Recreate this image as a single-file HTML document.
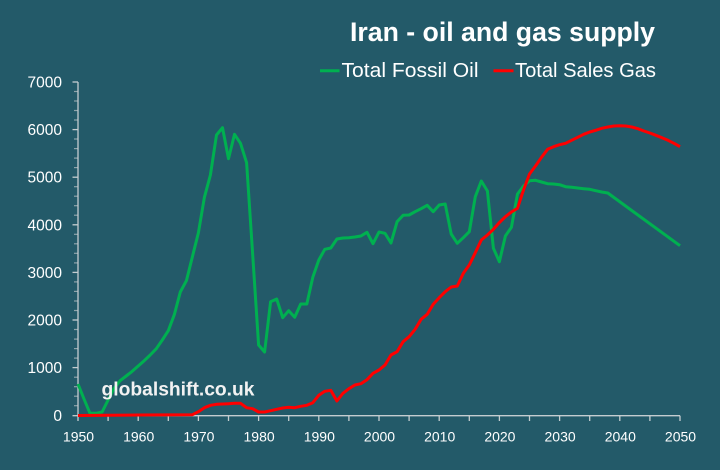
<!DOCTYPE html>
<html>
<head>
<meta charset="utf-8">
<style>
html,body{margin:0;padding:0;background:#235A69;}
svg{display:block;}
text{font-family:"Liberation Sans",Arial,sans-serif;}
</style>
</head>
<body>
<svg width="720" height="470" viewBox="0 0 720 470" xmlns="http://www.w3.org/2000/svg">
<rect x="0" y="0" width="720" height="470" fill="#235A69"/>

<!-- Title -->
<text x="350" y="41" font-size="27" font-weight="bold" fill="#ffffff" textLength="305" lengthAdjust="spacingAndGlyphs">Iran - oil and gas supply</text>

<!-- Legend -->
<line x1="320" y1="70.7" x2="339.5" y2="70.7" stroke="#00B050" stroke-width="3"/>
<text x="341.5" y="77" font-size="20" fill="#ffffff" textLength="137" lengthAdjust="spacingAndGlyphs">Total Fossil Oil</text>
<line x1="493.5" y1="70.7" x2="513.5" y2="70.7" stroke="#FF0000" stroke-width="3"/>
<text x="515" y="77" font-size="20" fill="#ffffff" textLength="141" lengthAdjust="spacingAndGlyphs">Total Sales Gas</text>

<!-- Y axis minor ticks -->
<g stroke="#8DA3AA" stroke-width="1.2">
<line x1="74" y1="91.5" x2="78" y2="91.5"/><line x1="74" y1="101" x2="78" y2="101"/><line x1="74" y1="110.5" x2="78" y2="110.5"/><line x1="74" y1="120" x2="78" y2="120"/>
<line x1="74" y1="139" x2="78" y2="139"/><line x1="74" y1="148.6" x2="78" y2="148.6"/><line x1="74" y1="158.1" x2="78" y2="158.1"/><line x1="74" y1="167.6" x2="78" y2="167.6"/>
<line x1="74" y1="186.7" x2="78" y2="186.7"/><line x1="74" y1="196.2" x2="78" y2="196.2"/><line x1="74" y1="205.7" x2="78" y2="205.7"/><line x1="74" y1="215.2" x2="78" y2="215.2"/>
<line x1="74" y1="234.3" x2="78" y2="234.3"/><line x1="74" y1="243.8" x2="78" y2="243.8"/><line x1="74" y1="253.3" x2="78" y2="253.3"/><line x1="74" y1="262.9" x2="78" y2="262.9"/>
<line x1="74" y1="281.9" x2="78" y2="281.9"/><line x1="74" y1="291.4" x2="78" y2="291.4"/><line x1="74" y1="301" x2="78" y2="301"/><line x1="74" y1="310.5" x2="78" y2="310.5"/>
<line x1="74" y1="329.5" x2="78" y2="329.5"/><line x1="74" y1="339.1" x2="78" y2="339.1"/><line x1="74" y1="348.6" x2="78" y2="348.6"/><line x1="74" y1="358.1" x2="78" y2="358.1"/>
<line x1="74" y1="377.2" x2="78" y2="377.2"/><line x1="74" y1="386.7" x2="78" y2="386.7"/><line x1="74" y1="396.2" x2="78" y2="396.2"/><line x1="74" y1="405.7" x2="78" y2="405.7"/>
</g>
<!-- Y axis major ticks + line -->
<g stroke="#C4CDD0" stroke-width="1.3">
<line x1="78" y1="82" x2="78" y2="415.7"/>
<line x1="72.5" y1="82" x2="78" y2="82"/>
<line x1="72.5" y1="129.6" x2="78" y2="129.6"/>
<line x1="72.5" y1="177.2" x2="78" y2="177.2"/>
<line x1="72.5" y1="224.8" x2="78" y2="224.8"/>
<line x1="72.5" y1="272.4" x2="78" y2="272.4"/>
<line x1="72.5" y1="320" x2="78" y2="320"/>
<line x1="72.5" y1="367.6" x2="78" y2="367.6"/>
<line x1="72.5" y1="415.7" x2="78" y2="415.7"/>
<!-- X axis -->
<line x1="78" y1="415.7" x2="680" y2="415.7"/>
<line x1="78" y1="415.7" x2="78" y2="421"/>
<line x1="108.1" y1="415.7" x2="108.1" y2="421"/>
<line x1="138.2" y1="415.7" x2="138.2" y2="421"/>
<line x1="168.3" y1="415.7" x2="168.3" y2="421"/>
<line x1="198.4" y1="415.7" x2="198.4" y2="421"/>
<line x1="228.5" y1="415.7" x2="228.5" y2="421"/>
<line x1="258.6" y1="415.7" x2="258.6" y2="421"/>
<line x1="288.7" y1="415.7" x2="288.7" y2="421"/>
<line x1="318.8" y1="415.7" x2="318.8" y2="421"/>
<line x1="348.9" y1="415.7" x2="348.9" y2="421"/>
<line x1="379" y1="415.7" x2="379" y2="421"/>
<line x1="409.1" y1="415.7" x2="409.1" y2="421"/>
<line x1="439.2" y1="415.7" x2="439.2" y2="421"/>
<line x1="469.3" y1="415.7" x2="469.3" y2="421"/>
<line x1="499.4" y1="415.7" x2="499.4" y2="421"/>
<line x1="529.5" y1="415.7" x2="529.5" y2="421"/>
<line x1="559.6" y1="415.7" x2="559.6" y2="421"/>
<line x1="589.7" y1="415.7" x2="589.7" y2="421"/>
<line x1="619.8" y1="415.7" x2="619.8" y2="421"/>
<line x1="649.9" y1="415.7" x2="649.9" y2="421"/>
<line x1="680" y1="415.7" x2="680" y2="421"/>
</g>

<!-- Y labels -->
<g font-size="15.5" fill="#ffffff" text-anchor="end">
<text x="62" y="87.5">7000</text>
<text x="62" y="135">6000</text>
<text x="62" y="182.7">5000</text>
<text x="62" y="230.3">4000</text>
<text x="62" y="277.9">3000</text>
<text x="62" y="325.5">2000</text>
<text x="62" y="373.1">1000</text>
<text x="62" y="421">0</text>
</g>
<!-- X labels -->
<g font-size="14" fill="#ffffff" text-anchor="middle">
<text x="78.5" y="441.5">1950</text>
<text x="138.7" y="441.5">1960</text>
<text x="198.9" y="441.5">1970</text>
<text x="259.1" y="441.5">1980</text>
<text x="319.3" y="441.5">1990</text>
<text x="379.5" y="441.5">2000</text>
<text x="439.7" y="441.5">2010</text>
<text x="499.9" y="441.5">2020</text>
<text x="560.1" y="441.5">2030</text>
<text x="620.3" y="441.5">2040</text>
<text x="680.5" y="441.5">2050</text>
</g>

<!-- Green: Total Fossil Oil -->
<polyline fill="none" stroke="#00B050" stroke-width="3" stroke-linejoin="round" points="
78,384 84,399 90,413.3 96.1,413.3 102.1,412 108.1,400 114.1,388.3 120.1,380.7 126.2,376 132.2,371.3
138.2,366 144.2,360.7 150.2,355 156.3,348.7 162.3,340 168.3,330.7 174.3,314.7 180.3,292 186.4,280.7 192.4,256.7
198.4,232.7 204.4,197.3 210.4,175 216.5,135 222.5,127.7 228.5,158.7 234.5,134.3 240.5,143.3 246.6,162.7 252.6,253.3
258.6,345 264.6,352 270.6,301.7 276.7,299 282.7,317.7 288.7,310.7 294.7,317.3 300.7,304 306.8,304 312.8,277.3
318.8,260 324.8,249.3 330.8,248 336.9,239 342.9,238 348.9,237.7 354.9,237 360.9,236 367,232.3 373,243.7
379,232 385,233.3 391,243 397.1,221.7 403.1,215.3 409.1,215 415.1,211.7 421.1,208.7 427.2,205.3 433.2,211.7
439.2,205 445.2,204 451.2,234 457.3,243.3 463.3,237.7 469.3,231.7 475.3,196.7 481.3,181 487.4,191 493.4,248.3
499.4,261.7 505.4,236 511.4,227.3 517.5,194 523.5,186 529.5,180.7 535.5,180.3 541.5,182 547.6,183.7 553.6,184
559.6,184.7 565.6,186.7 571.6,187.3 577.7,188 583.7,188.7 589.7,189.3 595.7,190.7 601.7,192 607.8,193 680,245.7"/>

<!-- Red: Total Sales Gas -->
<polyline fill="none" stroke="#FF0000" stroke-width="3" stroke-linejoin="round" points="
78,415.5 108.1,415.2 138.2,415 168.3,414.9 192.4,414.7 198.4,411.7 204.4,407.7 210.4,405.3 216.5,404.3 222.5,404
228.5,403.7 234.5,403.3 240.5,403.3 246.6,407.7 252.6,408.7 258.6,412 264.6,412 270.6,410.7 276.7,409.3 282.7,408
288.7,407.3 294.7,407.7 300.7,406.3 306.8,405.3 312.8,402.7 318.8,395.3 324.8,391.3 330.8,390.3 336.9,401 342.9,393.3
348.9,388.7 354.9,385 360.9,383.7 367,379.7 373,373.3 379,370 385,365 391,355 397.1,351.7 403.1,341.7
409.1,336.7 415.1,329.3 421.1,319.3 427.2,314.3 433.2,304.3 439.2,297.7 445.2,291.7 451.2,287 457.3,286 463.3,273.3
469.3,265 475.3,252.7 481.3,240 487.4,235 493.4,229.3 499.4,222.5 505.4,216.7 511.4,212 517.5,208.3 523.5,190
529.5,174 535.5,166 541.5,157.3 547.6,149.3 553.6,146.7 559.6,144.7 565.6,143.3 571.6,140.3 577.7,137.3 583.7,134.3
589.7,132 595.7,130.3 601.7,128.3 607.8,127 613.8,126 619.8,125.7 625.8,126 631.8,127 637.9,128.7 643.9,131
649.9,133 655.9,135.3 661.9,137.7 668,140.3 674,143.3 680,146.7"/>

<!-- Watermark -->
<text x="101.5" y="395.5" font-size="19" font-weight="bold" fill="#F2F2F2" textLength="153" lengthAdjust="spacingAndGlyphs">globalshift.co.uk</text>
</svg>
</body>
</html>
